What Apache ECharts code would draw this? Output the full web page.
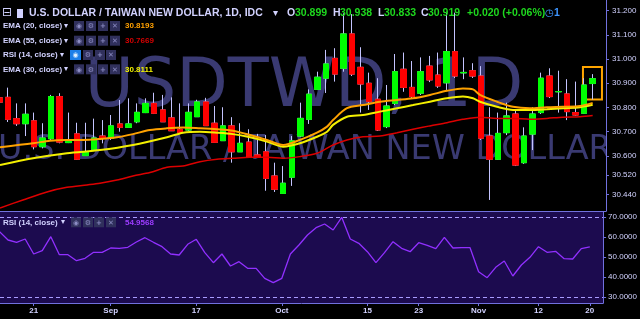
<!DOCTYPE html>
<html><head><meta charset="utf-8">
<script src="https://cdn.jsdelivr.net/npm/echarts@6/dist/echarts.min.js"></script>
<style>html,body{margin:0;padding:0;background:#000;}#c{width:640px;height:319px;}</style>
</head><body><div id="c"></div>
<script>
// ---------- DATA ----------
// candle positions: weekday index, 0 = 21 Aug 2018 ... 65 = 20 Nov 2018
const candlePos = Array.from({length: 70}, (_, k) => k - 4);
const opens = [
 30.840,30.842,30.754,30.733,30.745,30.638,30.671,30.845,30.655,30.691,
 30.601,30.627,30.682,30.673,30.732,30.718,30.741,30.779,30.817,30.790,
 30.757,30.710,30.707,30.762,30.823,30.735,30.663,30.724,30.617,30.657,
 30.604,30.617,30.517,30.445,30.512,30.682,30.751,30.875,30.921,31.003,
 30.962,31.104,30.966,30.900,30.834,30.721,30.817,30.958,30.883,30.859,
 30.971,30.934,30.902,31.031,30.943,30.952,30.930,30.682,30.586,30.696,
 30.773,30.572,30.690,30.779,30.930,30.865,30.856,30.779,30.776,30.899];
const closes = [
 30.822,30.751,30.733,30.772,30.638,30.674,30.845,30.657,30.666,30.586,
 30.617,30.674,30.674,30.724,30.718,30.732,30.780,30.817,30.776,30.741,
 30.704,30.696,30.780,30.823,30.725,30.656,30.724,30.617,30.652,30.597,
 30.594,30.507,30.462,30.487,30.662,30.755,30.855,30.925,30.980,30.938,
 31.104,30.938,30.897,30.824,30.707,30.806,30.948,30.883,30.845,30.948,
 30.914,30.889,31.031,30.930,30.945,30.930,30.673,30.586,30.693,30.765,
 30.562,30.682,30.773,30.921,30.845,30.866,30.783,30.769,30.893,30.919];
const lows = [
 30.800,30.740,30.724,30.682,30.627,30.631,30.666,30.652,30.653,30.583,
 30.600,30.627,30.652,30.666,30.700,30.718,30.735,30.777,30.773,30.740,
 30.703,30.695,30.703,30.761,30.724,30.655,30.662,30.572,30.616,30.595,
 30.591,30.456,30.451,30.443,30.476,30.678,30.732,30.872,30.860,30.907,
 30.948,30.930,30.779,30.790,30.703,30.715,30.810,30.865,30.839,30.852,
 30.905,30.881,30.872,30.922,30.917,30.922,30.666,30.418,30.583,30.686,
 30.558,30.567,30.624,30.773,30.839,30.779,30.748,30.767,30.773,30.833];
const highs = [
 30.860,30.882,30.817,30.817,30.779,30.735,30.852,30.859,30.779,30.737,
 30.737,30.754,30.748,30.769,30.831,30.838,30.817,30.838,30.861,30.852,
 30.842,30.817,30.817,30.832,30.840,30.806,30.801,30.760,30.735,30.710,
 30.691,30.686,30.572,30.558,30.682,30.820,30.875,30.948,31.038,31.045,
 31.189,31.186,31.049,30.944,30.921,30.893,31.021,31.027,30.992,31.007,
 31.013,31.027,31.192,31.192,31.007,30.983,30.971,30.801,30.779,30.820,
 30.790,30.718,30.801,30.944,30.962,30.952,30.917,30.907,30.921,30.938];
const rsiValues = [
 62.55,58.4,57.25,58.9,51.4,53.05,60.05,51.05,51.05,48.05,
 49.25,52.25,52.25,54.4,54.25,54.75,57.4,59.55,57.25,55.05,
 51.4,50.9,56.25,58.75,52.05,47.05,51.4,45.4,47.55,44.25,
 44.25,39.25,37.05,39.25,51.4,55.9,60.9,64.55,66.4,63.4,
 69.75,58.9,56.75,52.55,47.05,52.05,57.55,54.25,52.55,57.05,
 55.75,54.05,59.75,54.4,54.55,54.55,42.55,39.55,44.75,47.9,
 40.4,45.9,49.75,55.05,52.25,52.75,49.05,48.9,54.05,54.96];
// EMA curves read at points along the line: [position, value]
const ema20 = [[-3.94,30.636],[-0.1,30.652],[1.87,30.663],[3.85,30.666],[5.71,30.666],[7.69,30.670],[9.67,30.677],[11.53,30.690],[13.5,30.707],[15.48,30.714],[17.35,30.717],[19.32,30.714],[21.3,30.710],[23.16,30.704],[25.14,30.686],[27.1,30.666],[29.0,30.645],[30.95,30.666],[32.93,30.696],[34.1,30.721],[34.8,30.748],[36.42,30.797],[38.28,30.810],[40.26,30.824],[42.24,30.831],[44.1,30.838],[46.07,30.852],[48.05,30.869],[49.91,30.879],[51.08,30.875],[51.89,30.852],[53.87,30.824],[55.73,30.803],[57.7,30.797],[59.68,30.801],[61.54,30.803],[63.52,30.806],[65.0,30.819]];
const ema30 = [[-3.94,30.562],[-0.1,30.590],[3.85,30.611],[7.69,30.624],[11.53,30.645],[15.48,30.677],[17.35,30.696],[19.32,30.700],[21.3,30.696],[23.16,30.690],[25.14,30.677],[27.1,30.659],[29.0,30.638],[30.95,30.652],[32.93,30.679],[34.1,30.700],[34.8,30.728],[36.42,30.762],[38.28,30.769],[40.26,30.783],[42.24,30.797],[44.1,30.810],[46.07,30.824],[48.05,30.838],[49.91,30.845],[51.08,30.838],[51.89,30.824],[53.87,30.803],[55.73,30.790],[57.7,30.790],[59.68,30.793],[61.54,30.797],[63.52,30.801],[65.0,30.811]];
const ema55 = [[-3.94,30.385],[-1.27,30.418],[1.52,30.451],[3.85,30.470],[6.18,30.480],[7.69,30.487],[9.67,30.500],[11.53,30.517],[13.5,30.531],[15.48,30.553],[17.35,30.558],[19.32,30.576],[21.3,30.586],[23.16,30.590],[25.14,30.594],[27.1,30.594],[29.0,30.590],[30.95,30.597],[32.93,30.611],[34.8,30.645],[36.42,30.666],[38.28,30.679],[40.26,30.682],[42.24,30.696],[44.1,30.710],[46.07,30.724],[48.05,30.737],[49.91,30.751],[51.89,30.760],[53.87,30.755],[55.73,30.755],[57.7,30.751],[59.68,30.755],[61.54,30.760],[63.52,30.762],[65.0,30.767]];
const supportLevel = 30.448;
const supportSpan = [-4, 65.96];
const boxSpan = [63.87, 66.08];
const boxPrices = [30.967, 30.833];
const lastClose = 30.919;
const xTickPos = [0, 9, 19, 29, 39, 45, 52, 59, 65];
const xTickLabels = ['21', 'Sep', '17', 'Oct', '15', '23', 'Nov', '12', '20'];
const priceTicks = [30.44, 30.52, 30.6, 30.7, 30.8, 30.9, 31.0, 31.1, 31.2];
const rsiTicks = [30, 40, 50, 60, 70];
const rsiBands = [70, 30];
const legendValues = {ema20: '30.8193', ema55: '30.7669', ema30: '30.8111', rsi: '54.9568'};
const ohlcHeader = {o: '30.899', h: '30.938', l: '30.833', c: '30.919', chg: '+0.020 (+0.06%)'};

// ---------- CHART ----------
const X_MIN = -3.94, X_MAX = 66.55;
const AX = '#7171de', TXT = '#d2d2ff', FONT = 'Liberation Sans';
const UP = '#00ff00', DOWN = '#ff0000', WICK = '#c4c4ff';
const ohlc = candlePos.map((p, k) => [p, opens[k], closes[k], lows[k], highs[k]]);
const bodies = candlePos.map((p, k) => [p, opens[k], closes[k], Math.min(opens[k], closes[k]), Math.max(opens[k], closes[k])]);

const tx = (x, y, text, fill, font, align) => ({type: 'text', x, y, z: 50,
  style: {text, fill, font, textAlign: align || 'left', align: align || 'left', textVerticalAlign: 'middle', verticalAlign: 'middle'}});
const icon = (x, y, glyph, bg, fg, w) => { w = w || 10; return {type: 'group', x, y: y - 5, z: 50, children: [
  {type: 'rect', z: 50, shape: {x: 0, y: 0, width: w, height: 10}, style: {fill: bg}},
  {type: 'text', z: 51, x: w / 2, y: 5.5, style: {text: glyph, fill: fg, font: 'bold 7px "DejaVu Sans"', textAlign: 'center', align: 'center', textVerticalAlign: 'middle', verticalAlign: 'middle'}}]}; };
const IB = '#30305c', IF = '#8c8cc4';
const lblFont = 'bold 8px "Liberation Sans"';
function legendRow(y, label, value, color, xs, eyeBlue) {
  const els = [tx(3, y, label, TXT, lblFont), tx(xs[0] - 10, y, '▾', TXT, '8px "DejaVu Sans"')];
  els.push(eyeBlue ? icon(xs[0], y, '◉', '#1d7fe8', '#e0f0ff', 11) : icon(xs[0], y, '◉', IB, IF));
  els.push(icon(xs[1], y, '⚙', IB, IF), icon(xs[2], y, '+', IB, IF), icon(xs[3], y, '✕', IB, IF));
  if (value) els.push(tx(125, y, value, color, lblFont));
  return els;
}
const hdrFont = 'bold 10.5px "Liberation Sans"', GREEN = '#1ed81e';
const graphics = [
  {type: 'text', x: 304, y: 89, z: -2, style: {text: 'USDTWD, 1D', fill: '#3a3a72', font: '67px "DejaVu Sans"', textAlign: 'center', align: 'center', textVerticalAlign: 'middle', verticalAlign: 'middle'}},
  {type: 'text', x: 305, y: 150, z: -2, style: {text: 'U.S. DOLLAR / TAIWAN NEW DOLLAR', fill: '#3a3a72', font: '33.5px "DejaVu Sans"', textAlign: 'center', align: 'center', textVerticalAlign: 'middle', verticalAlign: 'middle'}},
  {type: 'rect', z: -1, shape: {x: 607, y: 0, width: 33, height: 211}, style: {fill: '#000'}},
  tx(2, 13, '⊟', TXT, '12px "DejaVu Sans"'),
  {type: 'rect', z: 50, shape: {x: 17, y: 9, width: 6, height: 9}, style: {fill: TXT}},
  tx(29, 13.5, 'U.S. DOLLAR / TAIWAN NEW DOLLAR, 1D, IDC', TXT, hdrFont),
  tx(273, 13.5, '▾', TXT, '10px "DejaVu Sans"'),
  tx(287, 13.5, 'O', TXT, hdrFont), tx(295, 13.5, ohlcHeader.o, GREEN, hdrFont),
  tx(333, 13.5, 'H', TXT, hdrFont), tx(340, 13.5, ohlcHeader.h, GREEN, hdrFont),
  tx(378, 13.5, 'L', TXT, hdrFont), tx(384, 13.5, ohlcHeader.l, GREEN, hdrFont),
  tx(421, 13.5, 'C', TXT, hdrFont), tx(428, 13.5, ohlcHeader.c, GREEN, hdrFont),
  tx(467, 13.5, ohlcHeader.chg, GREEN, hdrFont),
  tx(545, 13.5, '◷', '#3d95ff', 'bold 10px "DejaVu Sans"'), tx(554, 13.5, '1', '#3d95ff', hdrFont),
  ...legendRow(26, 'EMA (20, close)', legendValues.ema20, '#ffa000', [74, 86, 98, 110]),
  ...legendRow(40.7, 'EMA (55, close)', legendValues.ema55, '#d40000', [74, 86, 98, 110]),
  ...legendRow(55, 'RSI (14, close)', null, null, [70, 83, 95, 106], true),
  ...legendRow(69.3, 'EMA (30, close)', legendValues.ema30, '#f2f200', [74, 86, 98, 110]),
  ...legendRow(222.3, 'RSI (14, close)', legendValues.rsi, '#9d3cff', [71, 83, 94, 106])
];

const chart = echarts.init(document.getElementById('c'), null, {renderer: 'canvas', width: 640, height: 319});
chart.setOption({
  backgroundColor: '#000', animation: false,
  textStyle: {fontFamily: FONT},
  grid: [
    {left: 0, top: 0, width: 606, height: 211, show: false},
    {left: 0, top: 212, width: 606, height: 91, show: true, backgroundColor: '#1c0b4f', borderWidth: 0}
  ],
  xAxis: [
    {type: 'value', gridIndex: 0, min: X_MIN, max: X_MAX, axisLine: {onZero: false, lineStyle: {color: AX, width: 1}}, axisTick: {show: false}, axisLabel: {show: false}, splitLine: {show: false}},
    {type: 'value', gridIndex: 1, min: X_MIN, max: X_MAX, axisLine: {onZero: false, lineStyle: {color: AX, width: 1}},
     axisTick: {show: true, customValues: xTickPos, length: 3, lineStyle: {color: AX}},
     axisLabel: {customValues: xTickPos, formatter: v => xTickLabels[xTickPos.indexOf(Math.round(v))] || '', color: TXT, fontSize: 8, fontWeight: 'bold', fontFamily: FONT, margin: 4},
     splitLine: {show: false}}
  ],
  yAxis: [
    {type: 'value', gridIndex: 0, position: 'right', min: 30.3723, max: 31.2442, axisLine: {show: true, onZero: false, lineStyle: {color: AX}},
     axisTick: {show: true, customValues: priceTicks, length: 3, lineStyle: {color: AX}},
     axisLabel: {customValues: priceTicks, formatter: v => v.toFixed(3), color: TXT, fontSize: 8, fontFamily: FONT, margin: 6},
     splitLine: {show: false}},
    {type: 'value', gridIndex: 1, position: 'right', min: 26.9, max: 72.4, axisLine: {show: true, onZero: false, lineStyle: {color: AX}},
     axisTick: {show: true, customValues: rsiTicks, length: 3, lineStyle: {color: AX}},
     axisLabel: {customValues: rsiTicks, formatter: v => v.toFixed(4), color: TXT, fontSize: 8, fontFamily: FONT, margin: 5},
     splitLine: {show: false}}
  ],
  graphic: {elements: graphics},
  series: [
    {type: 'candlestick', name: 'wicks', xAxisIndex: 0, yAxisIndex: 0, data: ohlc, barWidth: 6, z: 2,
     itemStyle: {color: 'rgba(0,0,0,0)', color0: 'rgba(0,0,0,0)', borderColor: WICK, borderColor0: WICK, borderColorDoji: WICK, borderWidth: 1}},
    {type: 'candlestick', name: 'bodies', xAxisIndex: 0, yAxisIndex: 0, data: bodies, barWidth: 6, z: 3,
     itemStyle: {color: UP, color0: DOWN, borderColor: UP, borderColor0: DOWN, borderWidth: 1},
     markLine: {silent: true, symbol: ['none', 'none'], animation: false,
       data: [
         [{coord: [supportSpan[0], supportLevel], lineStyle: {color: '#00e6ff', width: 2, type: 'solid'}, label: {show: false}},
          {coord: [supportSpan[1], supportLevel]}],
         {yAxis: lastClose, lineStyle: {opacity: 0},
          label: {show: true, position: 'end', distance: 2, formatter: lastClose.toFixed(3), backgroundColor: '#00ff00', color: '#178a17', padding: [2, 3, 2, 3], fontSize: 8, fontFamily: FONT}}
       ]},
     markArea: {silent: true, itemStyle: {color: 'rgba(0,0,0,0)', borderColor: '#ffa500', borderWidth: 2},
       data: [[{coord: [boxSpan[0], boxPrices[0]]}, {coord: [boxSpan[1], boxPrices[1]]}]]}},
    {type: 'line', name: 'EMA55', xAxisIndex: 0, yAxisIndex: 0, data: ema55, smooth: 0.3, showSymbol: false, z: 4, lineStyle: {color: '#dc0000', width: 1.5}},
    {type: 'line', name: 'EMA30', xAxisIndex: 0, yAxisIndex: 0, data: ema30, smooth: 0.3, showSymbol: false, z: 4, lineStyle: {color: '#f4f000', width: 2}},
    {type: 'line', name: 'EMA20', xAxisIndex: 0, yAxisIndex: 0, data: ema20, smooth: 0.3, showSymbol: false, z: 4, lineStyle: {color: '#ffa200', width: 2}},
    {type: 'line', name: 'RSI', xAxisIndex: 1, yAxisIndex: 1, data: candlePos.map((p, k) => [p, rsiValues[k]]), showSymbol: false, z: 4, lineStyle: {color: '#9130ff', width: 1.3},
     markLine: {silent: true, symbol: ['none', 'none'], label: {show: false}, lineStyle: {color: '#a99cff', type: [4, 3], width: 1},
       data: rsiBands.map(v => ({yAxis: v}))}}
  ]
});
</script></body></html>
